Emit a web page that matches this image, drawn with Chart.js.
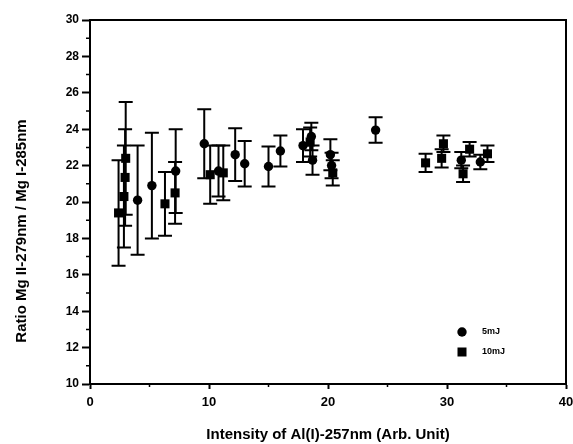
<!DOCTYPE html>
<html>
<head>
<meta charset="utf-8">
<script src="https://cdn.jsdelivr.net/npm/chart.js@4/dist/chart.umd.min.js"></script>
<style>
  html, body { margin: 0; padding: 0; background: #fff; }
  #wrap { width: 573px; height: 444px; }
</style>
</head>
<body>
<div id="wrap"><canvas id="chart" width="573" height="444"></canvas></div>
<script>
// 5mJ series (circles)
const fiveX   = [4.0, 5.2, 7.2, 9.6, 10.8, 12.2, 13.0, 15.0, 16.0, 17.9, 18.6, 18.7, 20.2, 20.3, 24.0, 31.2, 32.8];
const fiveY   = [20.1, 20.9, 21.7, 23.2, 21.7, 22.6, 22.1, 21.95, 22.8, 23.1, 23.6, 22.3, 22.6, 22.0, 23.95, 22.3, 22.2];
const fiveErr = [3.0, 2.9, 2.3, 1.9, 1.4, 1.45, 1.25, 1.1, 0.85, 0.9, 0.75, 0.8, 0.85, 0.7, 0.7, 0.45, 0.4];

// 10mJ series (squares)
const tenX   = [2.4, 2.85, 2.95, 3.0, 6.3, 7.15, 10.1, 11.2, 18.5, 20.4, 28.2, 29.55, 29.7, 31.35, 31.9, 33.4];
const tenY   = [19.4, 20.3, 21.35, 22.4, 19.9, 20.5, 21.5, 21.6, 23.3, 21.6, 22.15, 22.4, 23.2, 21.55, 22.9, 22.65];
const tenErr = [2.9, 2.8, 2.65, 3.1, 1.75, 1.7, 1.6, 1.5, 0.8, 0.7, 0.5, 0.5, 0.45, 0.45, 0.4, 0.45];

const seriesLabels = ['5mJ', '10mJ'];
const xTitle = 'Intensity of Al(I)-257nm (Arb. Unit)';
const yTitle = 'Ratio Mg II-279nm / Mg I-285nm';
const xMinorTicks = [5, 15, 25, 35];
const yMinorTicks = [11, 13, 15, 17, 19, 21, 23, 25, 27, 29];

const FONT = "'Liberation Sans', Arial, sans-serif";
const pts = (xs, ys) => xs.map((x, i) => ({ x, y: ys[i] }));
const errLists = [fiveErr, tenErr];

// vertical error bars with caps
const errorBars = {
  id: 'errorBars',
  beforeDatasetsDraw(chart) {
    const { ctx, scales: { x, y } } = chart;
    ctx.save();
    ctx.strokeStyle = '#000';
    ctx.lineWidth = 2;
    chart.data.datasets.forEach((ds, i) => {
      ds.data.forEach((d, j) => {
        const e = errLists[i][j];
        const px = x.getPixelForValue(d.x);
        const top = y.getPixelForValue(d.y + e);
        const bot = y.getPixelForValue(d.y - e);
        ctx.beginPath();
        ctx.moveTo(px, top); ctx.lineTo(px, bot);
        ctx.moveTo(px - 7, top); ctx.lineTo(px + 7, top);
        ctx.moveTo(px - 7, bot); ctx.lineTo(px + 7, bot);
        ctx.stroke();
      });
    });
    ctx.restore();
  }
};

// box frame, minor ticks, rotated y title, inset legend
const decorations = {
  id: 'decorations',
  afterDraw(chart) {
    const { ctx, chartArea: a, scales: { x, y } } = chart;
    ctx.save();
    ctx.strokeStyle = '#000';
    ctx.lineWidth = 2;
    ctx.strokeRect(a.left, a.top, a.right - a.left, a.bottom - a.top);

    ctx.lineWidth = 1.5;
    ctx.beginPath();
    yMinorTicks.forEach(v => {
      const py = y.getPixelForValue(v);
      ctx.moveTo(a.left - 4, py); ctx.lineTo(a.left, py);
    });
    xMinorTicks.forEach(v => {
      const px = x.getPixelForValue(v);
      ctx.moveTo(px, a.bottom); ctx.lineTo(px, a.bottom + 3);
    });
    ctx.stroke();

    ctx.fillStyle = '#000';
    ctx.font = `bold 15px ${FONT}`;
    ctx.textAlign = 'center';
    ctx.textBaseline = 'middle';
    ctx.translate(22, (a.top + a.bottom) / 2 + 29);
    ctx.rotate(-Math.PI / 2);
    ctx.fillText(yTitle, 0, 0);
    ctx.restore();

    ctx.save();
    ctx.fillStyle = '#000';
    const lx = a.right - 104, ly = a.bottom - 52;
    ctx.beginPath();
    ctx.arc(lx, ly, 4.7, 0, Math.PI * 2);
    ctx.fill();
    ctx.fillRect(lx - 4.5, ly + 20 - 4.5, 9, 9);
    ctx.font = `bold 9px ${FONT}`;
    ctx.textBaseline = 'middle';
    ctx.fillText(seriesLabels[0], lx + 20, ly);
    ctx.fillText(seriesLabels[1], lx + 20, ly + 20);
    ctx.restore();
  }
};

new Chart(document.getElementById('chart'), {
  type: 'scatter',
  data: {
    datasets: [
      { label: seriesLabels[0], data: pts(fiveX, fiveY), pointStyle: 'circle', pointRadius: 4.7,
        backgroundColor: '#000', borderColor: '#000', borderWidth: 0 },
      { label: seriesLabels[1], data: pts(tenX, tenY), pointStyle: 'rect', pointRadius: 6.4,
        backgroundColor: '#000', borderColor: '#000', borderWidth: 0 },
    ]
  },
  options: {
    responsive: false,
    animation: false,
    devicePixelRatio: 1,
    layout: { padding: { left: 0, right: 7, top: 20, bottom: 0 } },
    plugins: { legend: { display: false }, tooltip: { enabled: false } },
    scales: {
      x: {
        type: 'linear', min: 0, max: 40,
        afterFit: s => { s.height = 60; s.paddingLeft = 0; s.paddingRight = 0; },
        border: { display: true, color: '#000', width: 2 },
        grid: { drawOnChartArea: false, drawTicks: true, tickLength: 5, color: '#000', tickWidth: 2 },
        ticks: { stepSize: 10, color: '#000', padding: 6, font: { family: FONT, size: 13, weight: 'bold' } },
        title: { display: true, text: xTitle, color: '#000', padding: { top: 0, bottom: 0 },
                 font: { family: FONT, size: 15, weight: 'bold' } }
      },
      y: {
        type: 'linear', min: 10, max: 30,
        afterFit: s => { s.width = 90; },
        border: { display: true, color: '#000', width: 2 },
        grid: { drawOnChartArea: false, drawTicks: true, tickLength: 8, color: '#000', tickWidth: 2 },
        ticks: { stepSize: 2, color: '#000', padding: 3, font: { family: FONT, size: 12, weight: 'bold' } }
      }
    }
  },
  plugins: [errorBars, decorations]
});
</script>
</body>
</html>
